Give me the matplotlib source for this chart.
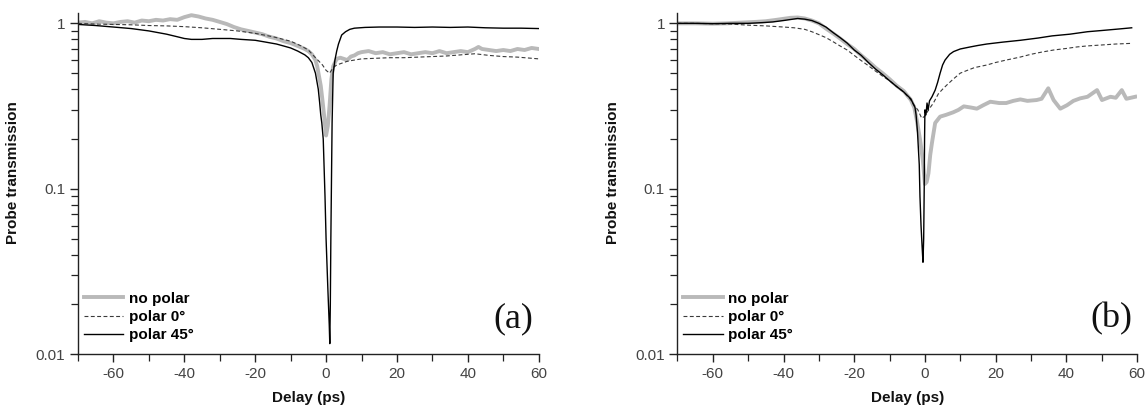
import matplotlib
matplotlib.use("Agg")
import matplotlib.pyplot as plt
from matplotlib.ticker import FixedLocator, NullFormatter, LogLocator, FuncFormatter, MultipleLocator

plt.rcParams["font.family"] = ["Liberation Sans", "DejaVu Sans"]
plt.rcParams["axes.unicode_minus"] = False

# ---- panel (a) ----
a_x_nopolar = [-70, -68, -66, -64, -62, -60, -58, -56, -54, -52, -50, -48, -46, -44, -42, -40,
               -38, -37, -36, -34, -32, -30, -28, -26, -24, -22, -20, -18, -16, -14, -12, -10,
               -8, -6, -5, -4, -3, -2.5, -2, -1.5, -1, -0.5, 0, 0.5, 1, 1.5, 2, 2.5, 3, 4, 5,
               6, 7, 8, 9, 10, 12, 14, 16, 18, 20, 22, 24, 26, 28, 30, 32, 34, 36, 38, 40, 42,
               43, 44, 46, 48, 50, 52, 54, 56, 58, 60]
a_y_nopolar = [1.01, 1.02, 1.0, 1.03, 1.01, 1.0, 1.02, 1.03, 1.01, 1.04, 1.03, 1.05, 1.04, 1.06,
               1.05, 1.09, 1.12, 1.11, 1.10, 1.07, 1.05, 1.02, 0.99, 0.95, 0.92, 0.90, 0.88,
               0.86, 0.83, 0.81, 0.78, 0.76, 0.73, 0.70, 0.68, 0.65, 0.60, 0.55, 0.48, 0.42,
               0.34, 0.27, 0.21, 0.24, 0.32, 0.46, 0.55, 0.58, 0.61, 0.62, 0.61, 0.60, 0.63,
               0.64, 0.66, 0.67, 0.68, 0.66, 0.67, 0.65, 0.66, 0.67, 0.65, 0.66, 0.67, 0.66,
               0.68, 0.66, 0.67, 0.68, 0.67, 0.70, 0.72, 0.70, 0.69, 0.68, 0.69, 0.68, 0.70,
               0.69, 0.71, 0.70]

a_x_polar0 = [-70, -65, -60, -55, -50, -45, -40, -35, -30, -25, -20, -15, -10, -7, -5, -3, -2,
              -1, 0, 1, 2, 3, 4, 6, 8, 10, 14, 18, 22, 26, 30, 34, 38, 42, 46, 50, 54, 58, 60]
a_y_polar0 = [1.0, 0.99, 0.985, 0.98, 0.97, 0.965, 0.955, 0.94, 0.92, 0.90, 0.87, 0.83, 0.78,
              0.73, 0.69, 0.62, 0.59, 0.56, 0.52, 0.50, 0.54, 0.56, 0.57, 0.59, 0.60, 0.61,
              0.615, 0.62, 0.62, 0.625, 0.63, 0.635, 0.645, 0.655, 0.64, 0.63, 0.625, 0.615,
              0.61]

a_x_polar45 = [-70, -65, -60, -55, -50, -45, -42, -40, -38, -35, -32, -30, -27, -24, -20, -17,
               -14, -12, -10, -8, -6, -5, -4, -3, -2.2, -1.8, -1.5, -1.2, -0.8, -0.3, 0.0, 0.5,
               0.9, 1.05, 1.2, 1.35, 1.5, 1.7, 2.0, 2.5, 3.0, 3.5, 4.4, 5.5, 6.7, 8, 11, 15, 20,
               25, 30, 35, 40, 45, 50, 55, 60]
a_y_polar45 = [0.985, 0.97, 0.95, 0.93, 0.90, 0.86, 0.83, 0.81, 0.80, 0.80, 0.81, 0.81, 0.81,
               0.80, 0.79, 0.77, 0.75, 0.73, 0.71, 0.68, 0.645, 0.62, 0.58, 0.50, 0.40, 0.33,
               0.28, 0.25, 0.20, 0.09, 0.05, 0.025, 0.015, 0.0116, 0.02, 0.05, 0.1, 0.25, 0.5,
               0.6, 0.68, 0.75, 0.85, 0.89, 0.92, 0.935, 0.945, 0.95, 0.95, 0.945, 0.95, 0.945,
               0.95, 0.94, 0.935, 0.935, 0.93]

# ---- panel (b) ----
b_x_nopolar = [-70, -65, -60, -56, -52, -48, -45, -42, -40, -38, -36, -34, -32, -30, -28, -26,
               -24, -22, -20, -18, -16, -14, -12, -10, -8, -6, -4, -3, -2.3, -1.4, -0.6, 0,
               0.5, 1, 1.5, 2, 2.9, 4.3, 6, 8, 9.5, 11, 13, 14.7, 16.5, 18.5, 21, 23, 25, 27,
               29, 31.6, 33, 34.9, 36.4, 38.3, 40.2, 42, 43.9, 46, 48.7, 50.1, 52.5, 54, 55.7,
               57, 59.5]
b_y_nopolar = [1.0, 1.0, 0.995, 1.0, 1.01, 1.02, 1.03, 1.05, 1.065, 1.08, 1.085, 1.07, 1.04,
               1.0, 0.93, 0.87, 0.81, 0.75, 0.70, 0.64, 0.59, 0.54, 0.50, 0.46, 0.42, 0.39,
               0.345, 0.31, 0.26, 0.20, 0.15, 0.107, 0.11, 0.124, 0.16, 0.19, 0.25, 0.273,
               0.28, 0.29, 0.30, 0.315, 0.31, 0.305, 0.32, 0.336, 0.33, 0.33, 0.34, 0.347,
               0.34, 0.344, 0.35, 0.405, 0.344, 0.305, 0.32, 0.34, 0.352, 0.36, 0.395, 0.344,
               0.36, 0.355, 0.395, 0.35, 0.36]

b_x_polar0 = [-70, -65, -60, -55, -50, -45, -40, -37, -34, -32, -30, -28, -26, -24, -22, -20,
              -18, -16, -14, -12, -10, -8, -6, -4, -3.3, -2, -0.9, 0, 0.6, 1.5, 2.4, 3.8, 5,
              6.2, 8, 10, 12, 14, 17.5, 20, 23, 26.9, 30, 33, 36.4, 40, 43, 45.8, 50, 54, 58.5]
b_y_polar0 = [1.0, 1.0, 0.995, 0.99, 0.975, 0.965, 0.95, 0.94, 0.92, 0.89, 0.855, 0.82, 0.775,
              0.73, 0.69, 0.64, 0.595, 0.555, 0.515, 0.48, 0.45, 0.415, 0.385, 0.345, 0.325,
              0.30, 0.267, 0.275, 0.29, 0.31, 0.33, 0.375, 0.40, 0.424, 0.46, 0.50, 0.52,
              0.54, 0.56, 0.58, 0.60, 0.625, 0.65, 0.67, 0.69, 0.705, 0.72, 0.73, 0.74, 0.75,
              0.757]

b_x_polar45 = [-70, -65, -60, -55, -50, -46, -43, -40, -38, -36, -34, -32, -30, -28, -26, -24,
               -22, -20, -18, -16, -14, -12, -10, -8, -6, -4, -2.8, -2.5, -2.1, -1.6, -1.4,
               -1.1, -0.8, -0.55, -0.35, -0.2, -0.1, 0.0, 0.3, 0.6, 0.9, 1.3, 2.0, 2.9, 3.6,
               4.3, 5.0, 5.7, 7, 8.1, 10, 12.8, 15, 17.5, 22, 27, 32, 36, 41, 46, 50, 55, 58.5]
b_y_polar45 = [1.0, 1.0, 0.995, 1.0, 1.0, 1.01, 1.02, 1.04, 1.055, 1.07, 1.06, 1.04, 1.0, 0.95,
               0.88, 0.82, 0.76, 0.69, 0.64, 0.58, 0.53, 0.49, 0.45, 0.415, 0.385, 0.35, 0.31,
               0.28, 0.22, 0.14, 0.09, 0.06, 0.045, 0.036, 0.05, 0.1, 0.2, 0.3, 0.28, 0.33,
               0.30, 0.34, 0.36, 0.395, 0.44, 0.50, 0.56, 0.60, 0.65, 0.675, 0.70, 0.72, 0.735,
               0.75, 0.77, 0.79, 0.815, 0.84, 0.86, 0.89, 0.905, 0.925, 0.94]

labels = ["no polar", "polar 0\u00b0", "polar 45\u00b0"]
x_ticks = [-60, -40, -20, 0, 20, 40, 60]

fig = plt.figure(figsize=(11.45, 4.08), dpi=100)
ax_a = fig.add_axes([0.0681, 0.1316, 0.4024, 0.8358])
ax_b = fig.add_axes([0.5917, 0.1316, 0.4013, 0.8358])

panels = [
    (ax_a, "(a)", a_x_nopolar, a_y_nopolar, a_x_polar0, a_y_polar0, a_x_polar45, a_y_polar45),
    (ax_b, "(b)", b_x_nopolar, b_y_nopolar, b_x_polar0, b_y_polar0, b_x_polar45, b_y_polar45),
]

for ax, tag, x1, y1, x2, y2, x3, y3 in panels:
    ax.plot(x1, y1, color="#b9b9b9", lw=2.8, label=labels[0], solid_joinstyle="round")
    ax.plot(x2, y2, color="#3a3a3a", lw=0.8, ls=(0, (3.5, 2.2)), label=labels[1])
    ax.plot(x3, y3, color="black", lw=1.0, label=labels[2])

    ax.set_yscale("log")
    ax.set_xlim(-70, 60)
    ax.set_ylim(0.01, 1.15)

    ax.xaxis.set_major_locator(FixedLocator(x_ticks))
    ax.xaxis.set_minor_locator(MultipleLocator(10))
    ax.yaxis.set_major_locator(FixedLocator([0.01, 0.1, 1]))
    ax.yaxis.set_major_formatter(FuncFormatter(lambda v, p: "%g" % v))
    ax.yaxis.set_minor_locator(LogLocator(base=10, subs=range(2, 10)))
    ax.yaxis.set_minor_formatter(NullFormatter())

    for side in ["top", "right"]:
        ax.spines[side].set_visible(False)
    for side in ["left", "bottom"]:
        ax.spines[side].set_color("#222222")
        ax.spines[side].set_linewidth(1.0)

    ax.tick_params(which="major", direction="out", length=6, width=1.0, color="#222222",
                   labelsize=11, labelcolor="#444444", pad=3)
    ax.tick_params(which="minor", direction="out", length=5, width=0.9, color="#222222")

    ax.set_xlabel("Delay (ps)", fontsize=11, fontweight="bold", color="#111111")
    ax.set_ylabel("Probe transmission", fontsize=11, fontweight="bold", color="#111111")
    ax.xaxis.set_label_coords(0.5, -0.108)
    ax.yaxis.set_label_coords(-0.125, 0.532)

    ax.text(0.945, 0.105, tag, transform=ax.transAxes, ha="center", va="center",
            fontsize=26, family="Liberation Serif", color="#111111")

    ax.legend(loc="lower left", bbox_to_anchor=(0.012, 0.035), frameon=False,
              prop={"weight": "bold", "size": 11}, handlelength=2.6,
              handletextpad=0.35, labelspacing=0.28, borderpad=0, borderaxespad=0)

fig.savefig("out.png", dpi=100)
